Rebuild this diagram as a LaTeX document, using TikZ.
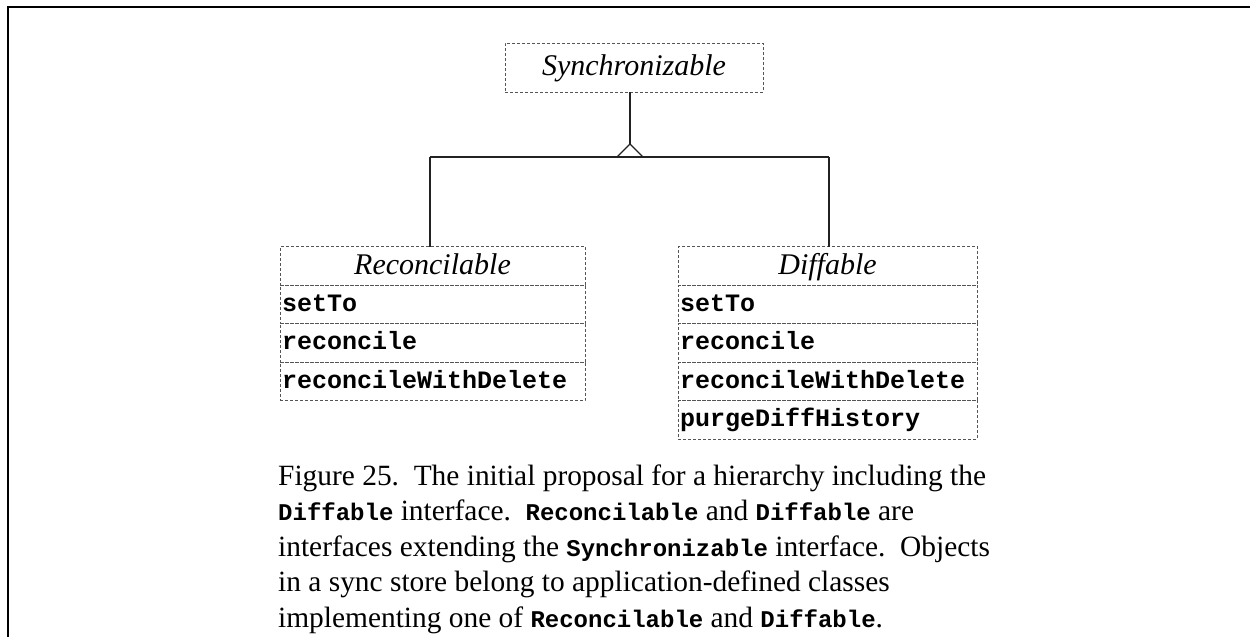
\documentclass[tikz,border=0pt]{standalone}
\usepackage{fontspec}
\setmainfont{Liberation Serif}
\newfontfamily\mymono{Liberation Mono}
\newcommand\mem[1]{{\mymono\bfseries\fontsize{25}{26}\selectfont #1}}
\newcommand\capmem[1]{{\mymono\bfseries\fontsize{24}{25}\selectfont #1}}
\definecolor{dashgray}{HTML}{555555}
\definecolor{linegray}{HTML}{222222}
\begin{document}
\begin{tikzpicture}[x=1pt,y=-1pt,
  dbox/.style={draw=dashgray, dash pattern=on 3pt off 2pt, line width=0.9pt, inner sep=0pt, outer sep=0pt},
  hdrfont/.style={font=\itshape\fontsize{30}{31}\selectfont},
  hdr/.style={dbox, hdrfont, anchor=north west, minimum height=38.5pt, text height=22pt, text depth=5pt},
  member/.style={dbox, anchor=north west, minimum height=38.5pt, align=left, inner xsep=2pt, text height=19pt, text depth=5pt},
  conn/.style={draw=linegray, line width=1.1pt},
  frameline/.style={draw=black, line width=2.4pt},
  captext/.style={anchor=base west, inner sep=0pt, font=\fontsize{29.4}{35.5}\selectfont}
]
\useasboundingbox (0,0) rectangle (1250,637);
% frame
\coordinate (fTL) at (8,7);
\coordinate (fTR) at (1251,7);
\coordinate (fBL) at (8,638);
\draw[frameline] (fTR) -- (fTL) -- (fBL);

% Synchronizable
\node[dbox, hdrfont, anchor=north west, minimum width=258pt, minimum height=49pt, text height=21pt, text depth=6pt] (sync) at (505,43) {Synchronizable};

% Reconcilable
\node[hdr, minimum width=305pt] (rh) at (280,246.5) {Reconcilable};
\node[member, text width=301pt] (r1) at (rh.south west) {\mem{setTo}};
\node[member, text width=301pt] (r2) at (r1.south west) {\mem{reconcile}};
\node[member, text width=301pt] (r3) at (r2.south west) {\mem{reconcileWithDelete}};

% Diffable
\node[hdr, minimum width=299pt] (dh) at (678,246.5) {Diffable};
\node[member, text width=295pt] (d1) at (dh.south west) {\mem{setTo}};
\node[member, text width=295pt] (d2) at (d1.south west) {\mem{reconcile}};
\node[member, text width=295pt] (d3) at (d2.south west) {\mem{reconcileWithDelete}};
\node[member, text width=295pt] (d4) at (d3.south west) {\mem{purgeDiffHistory}};

% inheritance connectors
\coordinate (apex) at (630,144);
\coordinate (tl) at (617,157);
\coordinate (tr) at (643,157);
\coordinate (barL) at (430,157);
\coordinate (barR) at (829,157);
\draw[conn] (sync.south -| apex) -- (apex);
\draw[conn, line join=miter] (apex) -- (tl) -- (tr) -- cycle;
\draw[conn] (barL) -- (barR);
\draw[conn] (barL) -- (barL |- rh.north);
\draw[conn] (barR) -- (barR |- dh.north);

% caption
\node[captext] (c1) at (278,485) {Figure 25.\ \ The initial proposal for a hierarchy including the};
\node[captext] (c2) at (278,520.5) {\capmem{Diffable} interface.\ \ \capmem{Reconcilable} and \capmem{Diffable} are};
\node[captext] (c3) at (278,556) {interfaces extending the \capmem{Synchronizable} interface.\ \ Objects};
\node[captext] (c4) at (278,591.5) {in a sync store belong to application-defined classes};
\node[captext] (c5) at (278,627) {implementing one of \capmem{Reconcilable} and \capmem{Diffable}.};
\end{tikzpicture}
\end{document}
